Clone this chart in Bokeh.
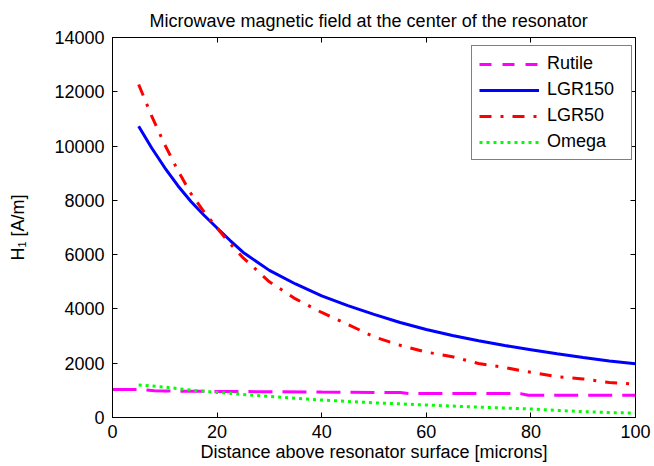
from bokeh.plotting import figure
from bokeh.models import LinearAxis, Legend, LegendItem, FixedTicker, Range1d
from bokeh.embed import file_html
from bokeh.resources import INLINE

FONT = "Liberation Sans"
FS = "18px"

# ---- data ----
x_lgr = [5, 7.5, 10, 12.5, 15, 17.5, 20, 22.5, 25, 30, 35, 40, 45, 50, 55, 60, 65, 70, 75, 80, 85, 90, 95, 100]
lgr150 = [10730, 9930, 9200, 8540, 7960, 7450, 6980, 6520, 6080, 5420, 4920, 4480, 4120, 3800, 3500, 3240,
          3020, 2830, 2650, 2500, 2350, 2210, 2080, 1980]
lgr50 = [12270, 11100, 10050, 9100, 8250, 7580, 6980, 6400, 5880, 5000, 4370, 3870, 3430, 2970, 2660, 2410,
         2240, 1990, 1840, 1665, 1500, 1420, 1290, 1230]

x_omega = [5, 10, 15, 20, 25, 30, 35, 40, 45, 50, 55, 60, 65, 70, 75, 80, 85, 90, 95, 100]
omega = [1200, 1120, 1010, 925, 850, 775, 705, 645, 590, 540, 503, 460, 420, 383, 350, 315, 262, 215, 180, 165]

x_rutile = [0, 5, 8, 10, 20, 30, 40, 50, 55, 57, 78, 79.5, 100]
rutile = [1030, 1030, 990, 975, 960, 950, 935, 925, 920, 880, 880, 820, 820]

x_ticks = [0, 20, 40, 60, 80, 100]
y_ticks = [0, 2000, 4000, 6000, 8000, 10000, 12000, 14000]

title_text = "Microwave magnetic field at the center of the resonator"
x_label = "Distance above resonator surface [microns]"
y_label = "H\u2081 [A/m]"

p = figure(width=654, height=466, output_backend="svg", toolbar_location=None,
           x_range=Range1d(0, 100), y_range=Range1d(0, 14000),
           min_border_left=112, min_border_right=19, min_border_top=37, min_border_bottom=49,
           title=title_text)

p.title.text_font = FONT
p.title.text_font_size = FS
p.title.text_font_style = "normal"
p.title.align = "left"
p.title.offset = 37
p.title.text_color = "black"
p.title.standoff = 13

p.xgrid.visible = False
p.ygrid.visible = False
p.outline_line_color = "black"
p.outline_line_width = 1
p.background_fill_color = "white"
p.border_fill_color = "white"

for ax in (p.xaxis[0], p.yaxis[0]):
    ax.major_label_text_font = FONT
    ax.major_label_text_font_size = FS
    ax.major_label_text_color = "black"
    ax.axis_label_text_font = FONT
    ax.axis_label_text_font_size = FS
    ax.axis_label_text_font_style = "normal"
    ax.axis_label_text_color = "black"
    ax.major_tick_in = 5
    ax.major_tick_out = 0
    ax.minor_tick_line_color = None
    ax.axis_line_color = "black"
    ax.major_tick_line_color = "black"

p.xaxis[0].ticker = FixedTicker(ticks=x_ticks)
p.yaxis[0].ticker = FixedTicker(ticks=y_ticks)
p.xaxis[0].axis_label = x_label
p.yaxis[0].axis_label = y_label
p.xaxis[0].major_label_standoff = 7
p.yaxis[0].major_label_standoff = 8
p.xaxis[0].axis_label_standoff = 1
p.yaxis[0].axis_label_standoff = 23

top = LinearAxis(ticker=FixedTicker(ticks=x_ticks), major_label_text_color=None,
                 major_tick_in=5, major_tick_out=0, minor_tick_line_color=None,
                 major_label_standoff=0, axis_line_color=None)
right = LinearAxis(ticker=FixedTicker(ticks=y_ticks), major_label_text_color=None,
                   major_tick_in=5, major_tick_out=0, minor_tick_line_color=None,
                   major_label_standoff=0, axis_line_color=None)
p.add_layout(top, "above")
p.add_layout(right, "right")

r_rut = p.line(x_rutile, rutile, line_color="#ff00ff", line_width=3, line_dash="24 10")
r_150 = p.line(x_lgr, lgr150, line_color="#0000ff", line_width=3)
r_50 = p.line(x_lgr, lgr50, line_color="#ff0000", line_width=3, line_dash="12 9 3 9")
r_om = p.line(x_omega, omega, line_color="#00ff00", line_width=3, line_dash="3 4")

# legend-only copy of the Rutile style (single point: draws nothing in the plot)
leg_rut = p.line(x_rutile[:1], rutile[:1], line_color="#ff00ff", line_width=3, line_dash="12 11")

legend = Legend(items=[LegendItem(label="Rutile", renderers=[leg_rut]),
                       LegendItem(label="LGR150", renderers=[r_150]),
                       LegendItem(label="LGR50", renderers=[r_50]),
                       LegendItem(label="Omega", renderers=[r_om])],
                location=(359, 257))
legend.label_text_font = FONT
legend.label_text_font_size = FS
legend.label_text_color = "black"
legend.glyph_width = 60
legend.glyph_height = 20
legend.label_height = 20
legend.label_width = 77
legend.label_standoff = 8
legend.spacing = 5
legend.padding = 7
legend.margin = 0
legend.border_line_color = "black"
legend.border_line_width = 1
legend.background_fill_color = "white"
legend.background_fill_alpha = 1
p.add_layout(legend, "center")

open("out.html", "w").write(file_html(p, INLINE))
